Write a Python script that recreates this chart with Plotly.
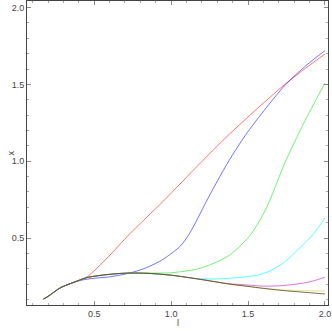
import plotly.graph_objects as go

# curve samples (l -> x)
red_l = [0.17, 0.20, 0.28, 0.39, 0.45, 0.59, 0.73, 0.95, 1.19, 1.38, 1.75, 2.0]
red_x = [0.103, 0.12, 0.176, 0.222, 0.245, 0.376, 0.526, 0.741, 0.988, 1.177, 1.509, 1.698]

blue_l = [0.17, 0.20, 0.28, 0.35, 0.42, 0.50, 0.60, 0.73, 0.84, 0.95, 1.06, 1.12, 1.23, 1.30, 1.38, 1.48, 1.62, 1.75, 1.88, 2.0]
blue_x = [0.103, 0.12, 0.176, 0.205, 0.226, 0.238, 0.247, 0.272, 0.307, 0.363, 0.448, 0.53, 0.74, 0.87, 1.01, 1.165, 1.35, 1.505, 1.625, 1.72]

green_l = [0.17, 0.20, 0.28, 0.39, 0.45, 0.55, 0.65, 0.73, 0.85, 1.0, 1.17, 1.28, 1.38, 1.51, 1.6, 1.64, 1.74, 1.86, 2.0]
green_x = [0.103, 0.12, 0.176, 0.22, 0.242, 0.258, 0.268, 0.272, 0.272, 0.274, 0.298, 0.337, 0.389, 0.513, 0.656, 0.741, 0.99, 1.242, 1.509]

cyan_l = [0.17, 0.20, 0.28, 0.39, 0.45, 0.55, 0.65, 0.73, 0.85, 1.0, 1.19, 1.38, 1.59, 1.72, 1.81, 1.92, 2.0]
cyan_x = [0.103, 0.12, 0.176, 0.22, 0.242, 0.258, 0.268, 0.272, 0.27, 0.258, 0.234, 0.238, 0.265, 0.33, 0.41, 0.52, 0.63]

magenta_l = [0.17, 0.20, 0.28, 0.39, 0.45, 0.55, 0.65, 0.73, 0.85, 1.0, 1.19, 1.38, 1.5, 1.6, 1.72, 1.85, 1.93, 2.0]
magenta_x = [0.103, 0.12, 0.176, 0.22, 0.242, 0.258, 0.268, 0.272, 0.27, 0.258, 0.231, 0.202, 0.194, 0.187, 0.19, 0.205, 0.222, 0.245]

yellow_l = [0.17, 0.20, 0.28, 0.39, 0.45, 0.55, 0.65, 0.73, 0.85, 1.0, 1.19, 1.38, 1.5, 1.6, 1.7, 1.8, 1.9, 2.0]
yellow_x = [0.103, 0.12, 0.176, 0.22, 0.242, 0.258, 0.268, 0.272, 0.27, 0.258, 0.231, 0.2, 0.186, 0.174, 0.164, 0.159, 0.156, 0.155]

black_l = [0.17, 0.20, 0.28, 0.39, 0.45, 0.55, 0.65, 0.73, 0.85, 1.0, 1.19, 1.38, 1.5, 1.6, 1.7, 1.8, 1.9, 2.0]
black_x = [0.103, 0.12, 0.176, 0.22, 0.242, 0.258, 0.268, 0.272, 0.27, 0.258, 0.231, 0.2, 0.185, 0.172, 0.161, 0.152, 0.144, 0.136]

x_ticks = [0.5, 1.0, 1.5, 2.0]
y_ticks = [0.5, 1.0, 1.5, 2.0]

curves = [
    (red_l, red_x, "rgba(255,0,0,0.55)"),
    (blue_l, blue_x, "rgba(0,0,255,0.55)"),
    (green_l, green_x, "rgba(0,230,0,0.55)"),
    (cyan_l, cyan_x, "rgba(0,255,255,0.65)"),
    (magenta_l, magenta_x, "rgba(190,0,190,0.55)"),
    (yellow_l, yellow_x, "rgba(230,200,60,0.6)"),
    (black_l, black_x, "rgba(40,40,0,0.65)"),
]

fig = go.Figure()
for l, x, c in curves:
    fig.add_trace(go.Scatter(x=l, y=x, mode="lines",
                             line=dict(color=c, width=1, shape="spline", smoothing=0.8),
                             showlegend=False))

axis_style = dict(
    showgrid=False, zeroline=False, showline=True, linecolor="#444", linewidth=1,
    mirror="ticks", ticks="inside", ticklen=4, tickcolor="#888", tickwidth=1,
    tickfont=dict(family="Liberation Sans, Arial", size=9, color="#444"),
    minor=dict(ticks="inside", ticklen=2, tickcolor="#aaa", dtick=0.1),
)

fig.update_xaxes(range=[0.063, 2.02], tickvals=x_ticks, ticktext=["0.5", "1.0", "1.5", "2.0"], **axis_style)
fig.update_yaxes(range=[0.064, 2.043], tickvals=y_ticks, ticktext=["0.5", "1.0", "1.5", "2.0"], **axis_style)

fig.add_annotation(text="l", x=0.5, y=-0.035, xref="paper", yref="paper", yanchor="top",
                   showarrow=False, font=dict(family="Liberation Sans, Arial", size=9, color="#444"))
fig.add_annotation(text="x", x=-0.078, y=0.5, xref="paper", yref="paper", textangle=-90,
                   showarrow=False, font=dict(family="Liberation Sans, Arial", size=9, color="#444"))

fig.update_layout(
    width=332, height=331,
    margin=dict(l=27, r=4, t=1, b=26),
    plot_bgcolor="white", paper_bgcolor="white",
)

fig.write_html("out.html", config={"displayModeBar": False},
               post_script="document.body.style.margin='0';")
